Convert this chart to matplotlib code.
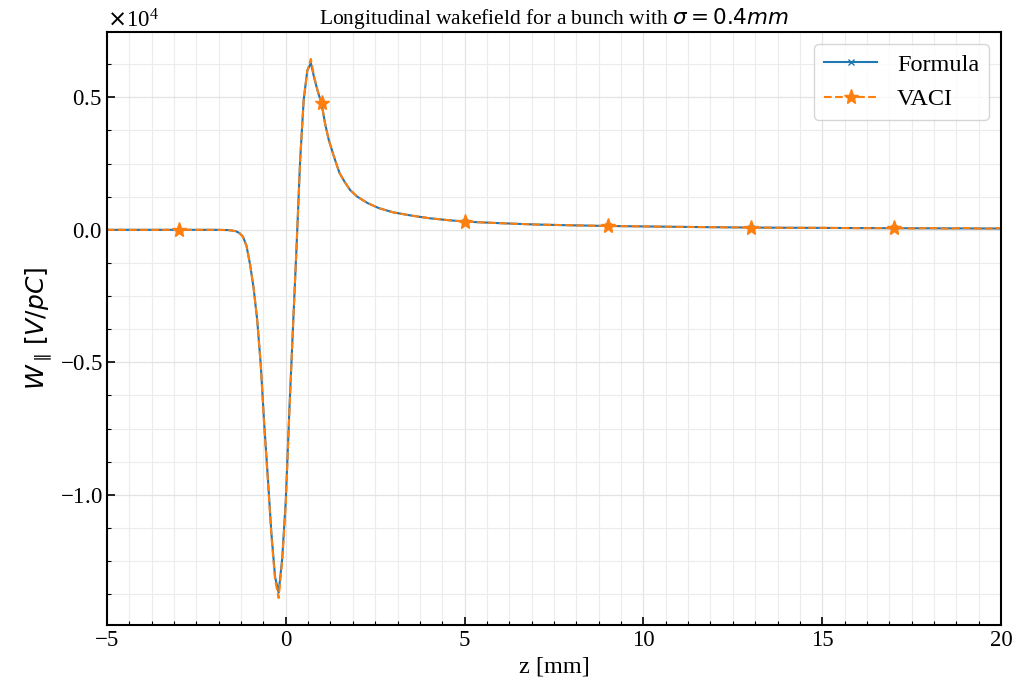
import matplotlib
matplotlib.use("Agg")
import matplotlib.pyplot as plt
from matplotlib.ticker import MultipleLocator, ScalarFormatter
import numpy as np

plt.rcParams['font.family'] = 'serif'
plt.rcParams['font.serif'] = ['Liberation Serif', 'DejaVu Serif']
plt.rcParams['mathtext.fontset'] = 'dejavusans'
plt.rcParams['axes.unicode_minus'] = True

# z in mm, W in units of 1e4 V/pC (scaled when plotting)
z_formula = [-5, -2, -1.6, -1.4, -1.3, -1.2, -1.1, -1.0, -0.9, -0.8, -0.7, -0.6, -0.5,
             -0.4, -0.3, -0.2, -0.1, 0.0, 0.1, 0.2, 0.3, 0.4, 0.5, 0.6, 0.7, 0.8, 0.9,
             1.0, 1.1, 1.2, 1.35, 1.5, 1.65, 1.8, 2.0, 2.3, 2.6, 3.0, 3.5, 4.0, 4.5,
             5, 6, 7, 8, 9, 10, 11, 12, 13, 14, 15, 16, 17, 18, 19, 20]
w_formula = [0, 0, -0.001, -0.005, -0.012, -0.025, -0.06, -0.13, -0.22, -0.34, -0.51,
             -0.74, -0.94, -1.15, -1.31, -1.37, -1.24, -1.02, -0.68, -0.37, -0.067,
             0.26, 0.49, 0.60, 0.63, 0.57, 0.52, 0.476, 0.40, 0.34, 0.275, 0.215, 0.18,
             0.15, 0.125, 0.10, 0.082, 0.066, 0.054, 0.044, 0.037, 0.031, 0.025, 0.020,
             0.017, 0.0145, 0.0128, 0.0112, 0.0098, 0.0086, 0.0078, 0.0072, 0.0066,
             0.0061, 0.0057, 0.0053, 0.005]

z_vaci = [-5, -4, -3, -2, -1.6, -1.4, -1.3, -1.2, -1.1, -1.0, -0.9, -0.8, -0.7, -0.6,
          -0.5, -0.4, -0.3, -0.2, -0.1, 0.0, 0.1, 0.2, 0.3, 0.4, 0.5, 0.6, 0.7, 0.8,
          0.9, 1.0, 1.1, 1.2, 1.35, 1.5, 1.65, 1.8, 2.0, 2.3, 2.6, 3.0, 3.5, 4.0, 4.5,
          5, 6, 7, 8, 9, 10, 11, 12, 13, 14, 15, 16, 17, 17.5, 18, 18.5, 19, 19.5, 20]
w_vaci = [0, 0, 0, 0, -0.001, -0.005, -0.012, -0.026, -0.06, -0.13, -0.22, -0.34,
          -0.51, -0.75, -0.95, -1.16, -1.32, -1.39, -1.25, -1.03, -0.69, -0.37, -0.065,
          0.26, 0.49, 0.60, 0.645, 0.575, 0.52, 0.478, 0.40, 0.34, 0.275, 0.215, 0.18,
          0.15, 0.125, 0.10, 0.082, 0.066, 0.054, 0.044, 0.037, 0.031, 0.025, 0.020,
          0.017, 0.0145, 0.0128, 0.0112, 0.0098, 0.0086, 0.0076, 0.0078, 0.0060,
          0.0064, 0.0050, 0.0068, 0.0044, 0.0070, 0.0040, 0.0062]
star_z = [-3, 1.0, 5, 9, 13, 17]

scale = 1e4
fig = plt.figure(figsize=(10.17, 6.91), dpi=100)
ax = fig.add_axes([0.1052, 0.0955, 0.8791, 0.8582])

ax.plot(z_formula, np.array(w_formula) * scale, color='#1f77b4', lw=1.5,
        marker='x', markersize=4, markevery=[z_formula.index(z) for z in star_z if z in z_formula],
        label='Formula')
ax.plot(z_vaci, np.array(w_vaci) * scale, color='#ff7f0e', lw=1.5, ls='--',
        marker='*', markersize=11, markevery=[z_vaci.index(z) for z in star_z],
        label='VACI')

ax.set_xlim(-5, 20)
ax.xaxis.set_major_locator(MultipleLocator(5))
ax.xaxis.set_minor_locator(MultipleLocator(0.625))
ax.yaxis.set_major_locator(MultipleLocator(5000))
ax.yaxis.set_minor_locator(MultipleLocator(1250))
fmt = ScalarFormatter(useMathText=True)
fmt.set_powerlimits((0, 0))
ax.yaxis.set_major_formatter(fmt)
ax.yaxis.get_offset_text().set_fontsize(16.5)

ax.grid(which='major', color='#e3e3e3', lw=0.9)
ax.grid(which='minor', color='#ececec', lw=0.8)
ax.set_axisbelow(True)
ax.tick_params(which='both', direction='in', top=False, right=False)
ax.tick_params(which='major', length=6, width=1.2, labelsize=16.5)
ax.tick_params(which='minor', length=3, width=0.8)
for s in ax.spines.values():
    s.set_linewidth(1.5)

ax.set_xlabel('z [mm]', fontsize=17.5)
ax.set_ylabel(r'$W_{\parallel}\,[V/pC]$', fontsize=18)
ax.set_title(r'Longitudinal wakefield for a bunch with $\sigma = 0.4mm$', fontsize=15.5)
ax.legend(loc='upper right', fontsize=17.5, handlelength=2.2)

fig.savefig('out.png', dpi=100)
